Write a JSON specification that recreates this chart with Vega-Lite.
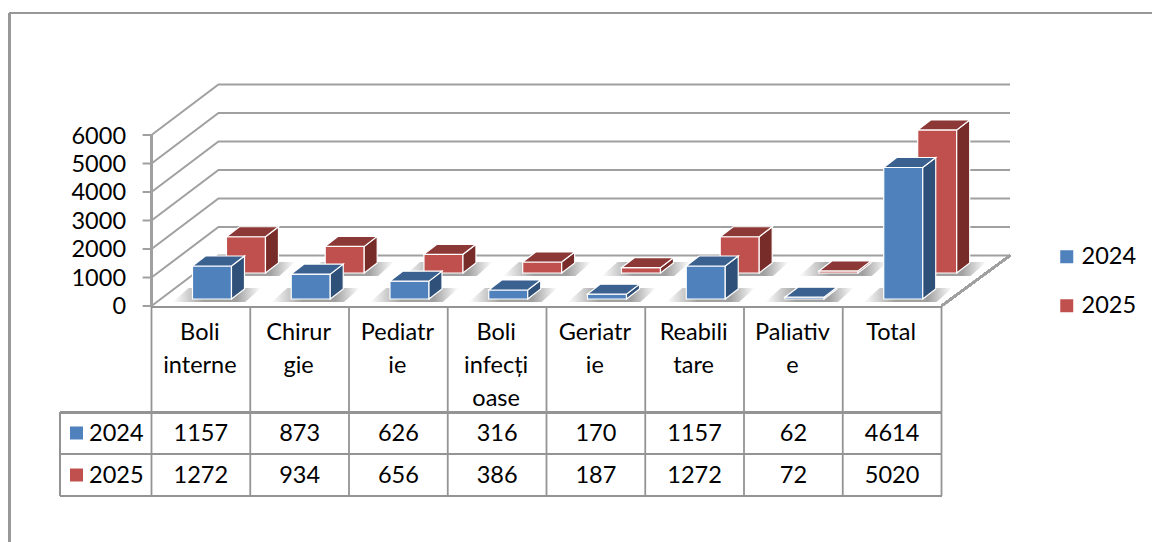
{"$schema":"https://vega.github.io/schema/vega-lite/v6.json","width":1152,"height":542,"padding":0,"autosize":{"type":"none"},"background":"white","config":{"view":{"stroke":null},"axis":{"disable":true},"text":{"font":"Lato","fontSize":23.5,"color":"#000000"}},
"datasets":{"bars":[
{"order":0,"category":"Boli interne","series":"2024","value":1157},{"order":1,"category":"Chirurgie","series":"2024","value":873},{"order":2,"category":"Pediatrie","series":"2024","value":626},{"order":3,"category":"Boli infecțioase","series":"2024","value":316},{"order":4,"category":"Geriatrie","series":"2024","value":170},{"order":5,"category":"Reabilitare","series":"2024","value":1157},{"order":6,"category":"Paliative","series":"2024","value":62},{"order":7,"category":"Total","series":"2024","value":4614},
{"order":0,"category":"Boli interne","series":"2025","value":1272},{"order":1,"category":"Chirurgie","series":"2025","value":934},{"order":2,"category":"Pediatrie","series":"2025","value":656},{"order":3,"category":"Boli infecțioase","series":"2025","value":386},{"order":4,"category":"Geriatrie","series":"2025","value":187},{"order":5,"category":"Reabilitare","series":"2025","value":1272},{"order":6,"category":"Paliative","series":"2025","value":72},{"order":7,"category":"Total","series":"2025","value":5020}],
"cats":[{"order":0,"label":"Boli\ninterne"},{"order":1,"label":"Chirur\ngie"},{"order":2,"label":"Pediatr\nie"},{"order":3,"label":"Boli\ninfecți\noase"},{"order":4,"label":"Geriatr\nie"},{"order":5,"label":"Reabili\ntare"},{"order":6,"label":"Paliativ\ne"},{"order":7,"label":"Total"},{"order":8,"label":""}],
"levels":[{"tick":0},{"tick":1000},{"tick":2000},{"tick":3000},{"tick":4000},{"tick":5000},{"tick":6000}]},
"data":{"name":"bars"},
"transform":[
{"calculate":"datum.order+0.415+(datum.series=='2025'?0.344:0)","as":"x0"},
{"calculate":"datum.x0+0.395","as":"x1"},
{"calculate":"datum.series=='2025'?1158:246","as":"base"},
{"calculate":"datum.base+datum.value","as":"top"},
{"calculate":"[0,1,2,3]","as":"k"},{"flatten":["k"]},
{"calculate":"datum.x1+datum.k*0.1316","as":"sx"},
{"calculate":"datum.base+datum.k*351","as":"sa"},
{"calculate":"datum.top+datum.k*351","as":"sb"},
{"calculate":"datum.k==0?datum.x0:datum.k==1?datum.x0+0.1316:datum.k==2?datum.x1:datum.x1+0.1316","as":"tx"},
{"calculate":"datum.k==3?datum.top+351:datum.top","as":"ta"},
{"calculate":"datum.k==0?datum.top:datum.top+351","as":"tb"},
{"calculate":"datum.k==0?datum.x0-0.2:datum.k==1?datum.x0-0.04:datum.k==2?datum.x1+0.14:datum.x1+0.3","as":"hx"},
{"calculate":"datum.k==3?datum.base+385:datum.base-105","as":"ha"},
{"calculate":"datum.k==0?datum.base-105:datum.base+385","as":"hb"}
],
"layer":[
{"data":{"name":"levels"},"transform":[{"calculate":"[0,1,2]","as":"k"},{"flatten":["k"]},{"calculate":"datum.k==0?0:datum.k==1?0.678:8.694","as":"gx"},{"calculate":"datum.tick+(datum.k==0?0:1772)","as":"gy"}],"mark":{"type":"line","color":"#a0a0a0","strokeWidth":2},"encoding":{"x":{"field":"gx","type":"quantitative","scale":{"domain":[-1.5342,10.1316],"nice":false,"zero":false}},"y":{"field":"gy","type":"quantitative","scale":{"domain":[-8281,10737],"nice":false,"zero":false}},"detail":{"field":"tick"}}},
{"mark":{"type":"rule","color":"#a0a0a0","strokeWidth":2},"encoding":{"x":{"datum":8,"type":"quantitative","scale":{"domain":[-1.5342,10.1316],"nice":false,"zero":false}},"x2":{"datum":8.694},"y":{"datum":0,"type":"quantitative","scale":{"domain":[-8281,10737],"nice":false,"zero":false}},"y2":{"datum":1772}}},
{"mark":{"type":"rule","color":"#a0a0a0","strokeWidth":2},"encoding":{"x":{"datum":0,"type":"quantitative","scale":{"domain":[-1.5342,10.1316],"nice":false,"zero":false}},"y":{"datum":0,"type":"quantitative","scale":{"domain":[-8281,10737],"nice":false,"zero":false}},"y2":{"datum":6000}}},
{"data":{"name":"levels"},"mark":{"type":"rule","color":"#a0a0a0","strokeWidth":2},"encoding":{"x":{"datum":-0.09,"type":"quantitative","scale":{"domain":[-1.5342,10.1316],"nice":false,"zero":false}},"x2":{"datum":0},"y":{"field":"tick","type":"quantitative","scale":{"domain":[-8281,10737],"nice":false,"zero":false}}}},
{"data":{"name":"levels"},"mark":{"type":"text","align":"right","baseline":"middle","dy":1.5},"encoding":{"x":{"datum":-0.258,"type":"quantitative","scale":{"domain":[-1.5342,10.1316],"nice":false,"zero":false}},"y":{"field":"tick","type":"quantitative","scale":{"domain":[-8281,10737],"nice":false,"zero":false}},"text":{"field":"tick","type":"nominal"}}},

{"mark":{"type":"area","fill":{"gradient":"linear","x1":0,"y1":0,"x2":1,"y2":0,"stops":[{"offset":0,"color":"rgba(120,120,120,0)"},{"offset":0.35,"color":"rgba(120,120,120,0.7)"},{"offset":0.72,"color":"rgba(120,120,120,0.7)"},{"offset":1,"color":"rgba(120,120,120,0)"}]}},"encoding":{"x":{"field":"hx","type":"quantitative","scale":{"domain":[-1.5342,10.1316],"nice":false,"zero":false}},"y":{"field":"ha","type":"quantitative","stack":null,"scale":{"domain":[-8281,10737],"nice":false,"zero":false}},"y2":{"field":"hb"},"detail":[{"field":"order"},{"field":"series"}]}},

{"transform":[{"filter":"datum.series=='2025'&&datum.k==0"}],"mark":{"type":"rect","stroke":"#ffffff","strokeWidth":1.2},"encoding":{"x":{"field":"x0","type":"quantitative","scale":{"domain":[-1.5342,10.1316],"nice":false,"zero":false}},"x2":{"field":"x1"},"y":{"field":"base","type":"quantitative","scale":{"domain":[-8281,10737],"nice":false,"zero":false}},"y2":{"field":"top"},"color":{"field":"series","type":"nominal","scale":{"domain":["2024","2025"],"range":["#4F81BD","#C0504D"]},"legend":{"orient":"none","legendX":1055,"legendY":245,"title":null,"symbolType":"square","symbolSize":169,"symbolStrokeWidth":0,"labelFont":"Lato","labelFontSize":23.5,"labelColor":"#000000","rowPadding":24,"labelOffset":3}}}},
{"transform":[{"filter":"datum.series=='2025'&&datum.k<=1"}],"mark":{"type":"area","color":"#772C2A","stroke":"#ffffff","strokeWidth":1.2},"encoding":{"x":{"field":"sx","type":"quantitative","scale":{"domain":[-1.5342,10.1316],"nice":false,"zero":false}},"y":{"field":"sa","type":"quantitative","stack":null,"scale":{"domain":[-8281,10737],"nice":false,"zero":false}},"y2":{"field":"sb"},"detail":{"field":"order"}}},
{"transform":[{"filter":"datum.series=='2025'"}],"mark":{"type":"area","color":"#8C3836","stroke":"#ffffff","strokeWidth":1.2},"encoding":{"x":{"field":"tx","type":"quantitative","scale":{"domain":[-1.5342,10.1316],"nice":false,"zero":false}},"y":{"field":"ta","type":"quantitative","stack":null,"scale":{"domain":[-8281,10737],"nice":false,"zero":false}},"y2":{"field":"tb"},"detail":{"field":"order"}}},

{"transform":[{"filter":"datum.series=='2024'&&datum.k==0"}],"mark":{"type":"rect","stroke":"#ffffff","strokeWidth":1.2},"encoding":{"x":{"field":"x0","type":"quantitative","scale":{"domain":[-1.5342,10.1316],"nice":false,"zero":false}},"x2":{"field":"x1"},"y":{"field":"base","type":"quantitative","scale":{"domain":[-8281,10737],"nice":false,"zero":false}},"y2":{"field":"top"},"color":{"field":"series","type":"nominal"}}},
{"transform":[{"filter":"datum.series=='2024'&&datum.k<=1"}],"mark":{"type":"area","color":"#2F5078","stroke":"#ffffff","strokeWidth":1.2},"encoding":{"x":{"field":"sx","type":"quantitative","scale":{"domain":[-1.5342,10.1316],"nice":false,"zero":false}},"y":{"field":"sa","type":"quantitative","stack":null,"scale":{"domain":[-8281,10737],"nice":false,"zero":false}},"y2":{"field":"sb"},"detail":{"field":"order"}}},
{"transform":[{"filter":"datum.series=='2024'"}],"mark":{"type":"area","color":"#3A618F","stroke":"#ffffff","strokeWidth":1.2},"encoding":{"x":{"field":"tx","type":"quantitative","scale":{"domain":[-1.5342,10.1316],"nice":false,"zero":false}},"y":{"field":"ta","type":"quantitative","stack":null,"scale":{"domain":[-8281,10737],"nice":false,"zero":false}},"y2":{"field":"tb"},"detail":{"field":"order"}}},

{"data":{"name":"cats"},"mark":{"type":"rule","color":"#949494","strokeWidth":1.8},"encoding":{"x":{"field":"order","type":"quantitative","scale":{"domain":[-1.5342,10.1316],"nice":false,"zero":false}},"y":{"datum":-35,"type":"quantitative","scale":{"domain":[-8281,10737],"nice":false,"zero":false}},"y2":{"datum":-6667}}},
{"mark":{"type":"rule","color":"#949494","strokeWidth":1.8},"encoding":{"x":{"datum":0,"type":"quantitative","scale":{"domain":[-1.5342,10.1316],"nice":false,"zero":false}},"x2":{"datum":8},"y":{"datum":-35,"type":"quantitative","scale":{"domain":[-8281,10737],"nice":false,"zero":false}}}},
{"mark":{"type":"rule","color":"#949494","strokeWidth":1.8},"encoding":{"x":{"datum":-0.9266,"type":"quantitative","scale":{"domain":[-1.5342,10.1316],"nice":false,"zero":false}},"x2":{"datum":8},"y":{"datum":-3744,"type":"quantitative","scale":{"domain":[-8281,10737],"nice":false,"zero":false}}}},
{"mark":{"type":"rule","color":"#949494","strokeWidth":1.8},"encoding":{"x":{"datum":-0.9266,"type":"quantitative","scale":{"domain":[-1.5342,10.1316],"nice":false,"zero":false}},"x2":{"datum":8},"y":{"datum":-5193,"type":"quantitative","scale":{"domain":[-8281,10737],"nice":false,"zero":false}}}},
{"mark":{"type":"rule","color":"#949494","strokeWidth":1.8},"encoding":{"x":{"datum":-0.9266,"type":"quantitative","scale":{"domain":[-1.5342,10.1316],"nice":false,"zero":false}},"x2":{"datum":8},"y":{"datum":-6667,"type":"quantitative","scale":{"domain":[-8281,10737],"nice":false,"zero":false}}}},
{"mark":{"type":"rule","color":"#949494","strokeWidth":1.8},"encoding":{"x":{"datum":-0.9266,"type":"quantitative","scale":{"domain":[-1.5342,10.1316],"nice":false,"zero":false}},"y":{"datum":-3744,"type":"quantitative","scale":{"domain":[-8281,10737],"nice":false,"zero":false}},"y2":{"datum":-6667}}},

{"data":{"name":"cats"},"transform":[{"calculate":"datum.order+0.49","as":"cx"}],"mark":{"type":"text","baseline":"top","lineBreak":"\n","lineHeight":33},"encoding":{"x":{"field":"cx","type":"quantitative","scale":{"domain":[-1.5342,10.1316],"nice":false,"zero":false}},"y":{"datum":-525,"type":"quantitative","scale":{"domain":[-8281,10737],"nice":false,"zero":false}},"text":{"field":"label"}}},
{"transform":[{"filter":"datum.k==0"},{"calculate":"datum.order+0.5","as":"cx"},{"calculate":"datum.series=='2025'?-5930:-4456","as":"ry"}],"mark":{"type":"text","baseline":"middle","dy":1},"encoding":{"x":{"field":"cx","type":"quantitative","scale":{"domain":[-1.5342,10.1316],"nice":false,"zero":false}},"y":{"field":"ry","type":"quantitative","scale":{"domain":[-8281,10737],"nice":false,"zero":false}},"text":{"field":"value","type":"quantitative"}}},
{"transform":[{"filter":"datum.k==0&&datum.order==0"},{"calculate":"datum.series=='2025'?-5930:-4456","as":"ry"}],"mark":{"type":"text","baseline":"middle","align":"right","dy":1},"encoding":{"x":{"datum":-0.08,"type":"quantitative","scale":{"domain":[-1.5342,10.1316],"nice":false,"zero":false}},"y":{"field":"ry","type":"quantitative","scale":{"domain":[-8281,10737],"nice":false,"zero":false}},"text":{"field":"series"}}},
{"transform":[{"filter":"datum.k==0&&datum.order==0"},{"calculate":"datum.series=='2025'?-5930:-4456","as":"ry"}],"mark":{"type":"point","shape":"square","filled":true,"size":169,"opacity":1},"encoding":{"x":{"datum":-0.7595,"type":"quantitative","scale":{"domain":[-1.5342,10.1316],"nice":false,"zero":false}},"y":{"field":"ry","type":"quantitative","scale":{"domain":[-8281,10737],"nice":false,"zero":false}},"color":{"field":"series","type":"nominal"}}},

{"mark":{"type":"rule","color":"#989898","strokeWidth":1.8},"encoding":{"x":{"datum":-1.438,"type":"quantitative","scale":{"domain":[-1.5342,10.1316],"nice":false,"zero":false}},"x2":{"datum":10.1316},"y":{"datum":10281,"type":"quantitative","scale":{"domain":[-8281,10737],"nice":false,"zero":false}}}},
{"mark":{"type":"rule","color":"#989898","strokeWidth":1.8},"encoding":{"x":{"datum":-1.438,"type":"quantitative","scale":{"domain":[-1.5342,10.1316],"nice":false,"zero":false}},"y":{"datum":10281,"type":"quantitative","scale":{"domain":[-8281,10737],"nice":false,"zero":false}},"y2":{"datum":-8281}}}
]}
